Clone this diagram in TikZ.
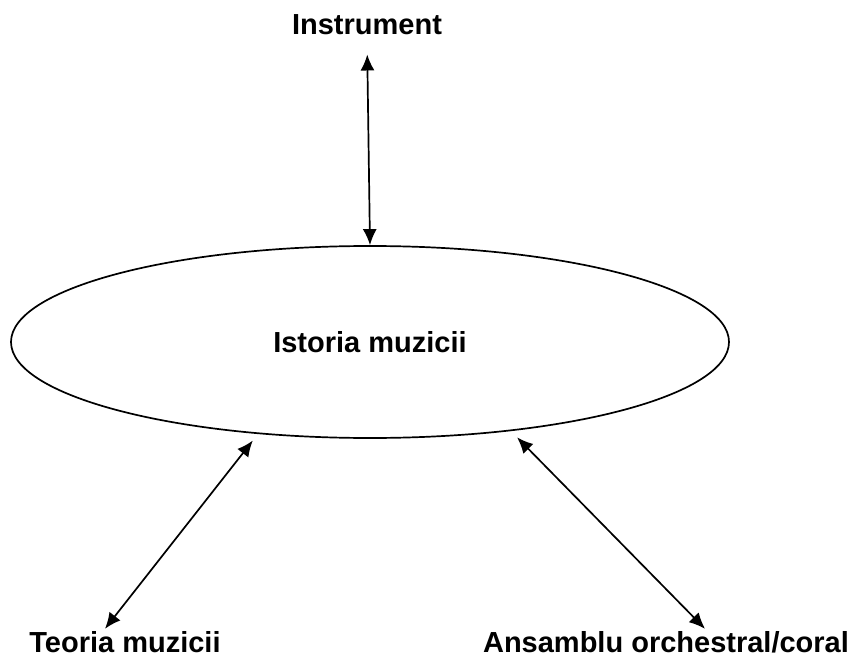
\documentclass[tikz,border=0pt]{standalone}
\usepackage{fontspec}
\setmainfont{Liberation Sans}
\usetikzlibrary{arrows.meta,positioning,shapes.geometric}

\begin{document}
\begin{tikzpicture}
  [x=1pt,y=-1pt,every node/.style={font=\fontsize{29}{34}\selectfont\bfseries,inner sep=1pt},
   label text/.style={anchor=base},
   link/.style={{Latex[length=16pt,width=14pt]}-{Latex[length=16pt,width=14pt]},line width=1.7pt}]
  \useasboundingbox (0,0) rectangle (857,658);
  \node[label text] (instr) at (367,35) {Instrument};
  \node[draw,ellipse,line width=1.7pt,minimum width=718pt,minimum height=192pt] (istoria) at (370,342) {Istoria muzicii};
  \node[label text] (teoria) at (125,652) {Teoria muzicii};
  \node[label text] (ansamblu) at (666,652) {Ansamblu orchestral/coral};

  \draw[link,shorten <=18pt] (instr.south) -- (istoria.north);
  \draw[link] ([xshift=-20pt,yshift=1pt]teoria.north) -- ([yshift=-7pt]istoria.218);
  \draw[link] ([xshift=39pt,yshift=1pt]ansamblu.north) -- ([yshift=-7pt]istoria.329);
\end{tikzpicture}
\end{document}
